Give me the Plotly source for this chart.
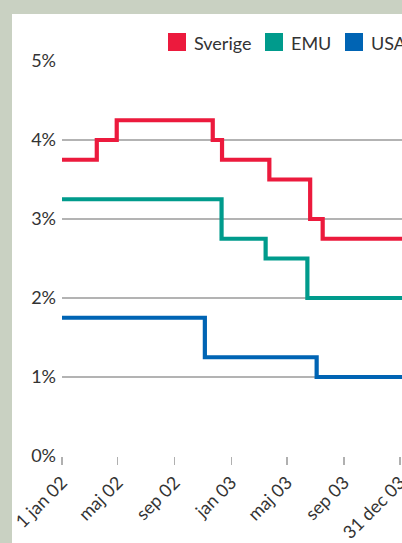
import plotly.graph_objects as go

series_names = ["Sverige", "EMU", "USA"]
colors = ["#ec1a3d", "#009b8c", "#0064b4"]

sverige_dates = ["2002-01-01", "2002-03-17", "2002-04-29", "2002-11-22", "2002-12-12",
                 "2003-03-24", "2003-06-20", "2003-07-17", "2004-01-06"]
sverige_vals = [3.75, 4.00, 4.25, 4.00, 3.75, 3.50, 3.00, 2.75, 2.75]

emu_dates = ["2002-01-01", "2002-12-11", "2003-03-16", "2003-06-14", "2004-01-06"]
emu_vals = [3.25, 2.75, 2.50, 2.00, 2.00]

usa_dates = ["2002-01-01", "2002-11-05", "2003-07-04", "2004-01-06"]
usa_vals = [1.75, 1.25, 1.00, 1.00]

tick_dates = ["2002-01-01", "2002-05-01", "2002-09-01", "2003-01-01",
              "2003-05-01", "2003-09-01", "2003-12-31"]
tick_labels = ["1 jan 02", "maj 02", "sep 02", "jan 03", "maj 03", "sep 03", "31 dec 03"]

y_ticks = [0, 1, 2, 3, 4, 5]
y_labels = ["0%", "1%", "2%", "3%", "4%", "5%"]

FONT = "Lato"
TXT = "#333333"

fig = go.Figure()
for name, d, v, c in zip(series_names, [sverige_dates, emu_dates, usa_dates],
                         [sverige_vals, emu_vals, usa_vals], colors):
    fig.add_trace(go.Scatter(x=d, y=v, mode="lines", name=name,
                             line=dict(color=c, width=4.2, shape="hv"),
                             showlegend=False, cliponaxis=True, hoverinfo="skip"))

W, H = 402, 543
L, R, T, B = 62, 0, 61, 87
pw = W - L - R
ph = H - T - B

def px2paper_x(px):
    return (px - L) / pw

def px2paper_y(py):
    return (H - B - py) / ph

shapes = [dict(type="rect", xref="paper", yref="paper",
               x0=px2paper_x(12), x1=px2paper_x(420),
               y0=px2paper_y(560), y1=px2paper_y(14),
               fillcolor="white", line=dict(width=0), layer="below")]
annotations = []
leg_x = [168, 265, 345]
for name, c, lx in zip(series_names, colors, leg_x):
    shapes.append(dict(type="rect", xref="paper", yref="paper",
                       x0=px2paper_x(lx), x1=px2paper_x(lx + 18),
                       y0=px2paper_y(51), y1=px2paper_y(33),
                       fillcolor=c, line=dict(width=0)))
    annotations.append(dict(xref="paper", yref="paper", x=px2paper_x(lx + 24),
                            y=px2paper_y(43), text=name, showarrow=False,
                            xanchor="left", yanchor="middle",
                            font=dict(family=FONT, size=18, color=TXT)))

fig.update_layout(
    width=W, height=H,
    margin=dict(l=L, r=R, t=T, b=B, autoexpand=False),
    paper_bgcolor="#c9d1c2",
    plot_bgcolor="rgba(0,0,0,0)",
    shapes=shapes,
    annotations=annotations,
    xaxis=dict(range=["2002-01-01", "2004-01-04"], tickmode="array",
               tickvals=tick_dates, ticktext=tick_labels, tickangle=-45,
               ticks="outside", ticklen=8, tickcolor="#b0b0b0", tickwidth=1.5,
               showgrid=False, showline=False, zeroline=False,
               ticklabeloverflow="allow", automargin=False,
               tickfont=dict(family=FONT, size=18, color=TXT)),
    yaxis=dict(range=[0, 5], tickmode="array", tickvals=y_ticks, ticktext=y_labels,
               showgrid=True, gridcolor="#b3b3b3", gridwidth=1.5,
               zeroline=False, showline=False, ticks="", ticklabelstandoff=5,
               automargin=False,
               tickfont=dict(family=FONT, size=18, color=TXT)),
    showlegend=False,
)

fig.write_html("out.html", config={"displayModeBar": False, "staticPlot": True},
               post_script="document.body.style.margin='0';document.body.style.overflow='hidden';")
